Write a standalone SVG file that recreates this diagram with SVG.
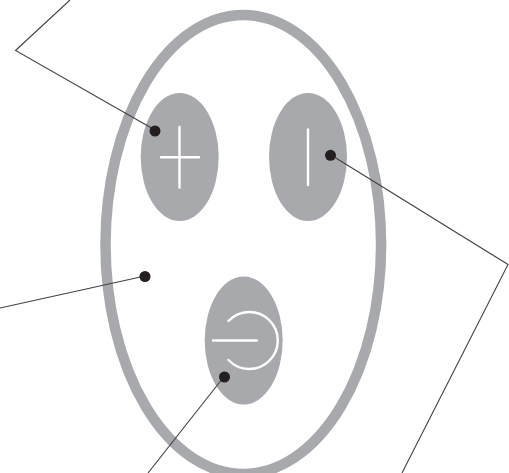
<svg xmlns="http://www.w3.org/2000/svg" width="509" height="473" viewBox="0 0 509 473">
<style>
.btn{fill:#a7a9ac}
.sym{fill:none;stroke:#fff;stroke-width:2.4;stroke-linecap:round}
.lead{fill:none;stroke:#414042;stroke-width:1.1}
.dot{fill:#231f20}
</style>
<rect width="509" height="473" fill="#fff"/>
<g id="body"><ellipse cx="243.300" cy="244.500" rx="137.800" ry="229.500" fill="none" stroke="#a7a9ac" stroke-width="10.500"/></g>
<g id="plus-button"><ellipse class="btn" cx="179.700" cy="157" rx="39" ry="64"/><path class="sym" d="M161 157.300H199M179.500 127V187.500"/></g>
<g id="minus-button"><ellipse class="btn" cx="308" cy="157" rx="39" ry="64"/><path class="sym" d="M308 129.500V185"/></g>
<g id="power-button"><ellipse class="btn" cx="243.700" cy="340.500" rx="39" ry="64"/><path class="sym" d="M213 340.500H257M228.500 321A28.500 28.500 0 1 1 228.500 360"/></g>
<g id="connectors">
<path class="lead" d="M70 0L15.500 50.500L155 130"/>
<path class="lead" d="M331 155L508 264.500L402 473"/>
<path class="lead" d="M0 308L145 276"/>
<path class="lead" d="M224.500 376L148 473"/>
<circle class="dot" cx="155" cy="131" r="5.500"/>
<circle class="dot" cx="330.500" cy="155.300" r="5.500"/>
<circle class="dot" cx="145" cy="276.500" r="5.500"/>
<circle class="dot" cx="224.500" cy="377" r="5.500"/>
</g>
</svg>
